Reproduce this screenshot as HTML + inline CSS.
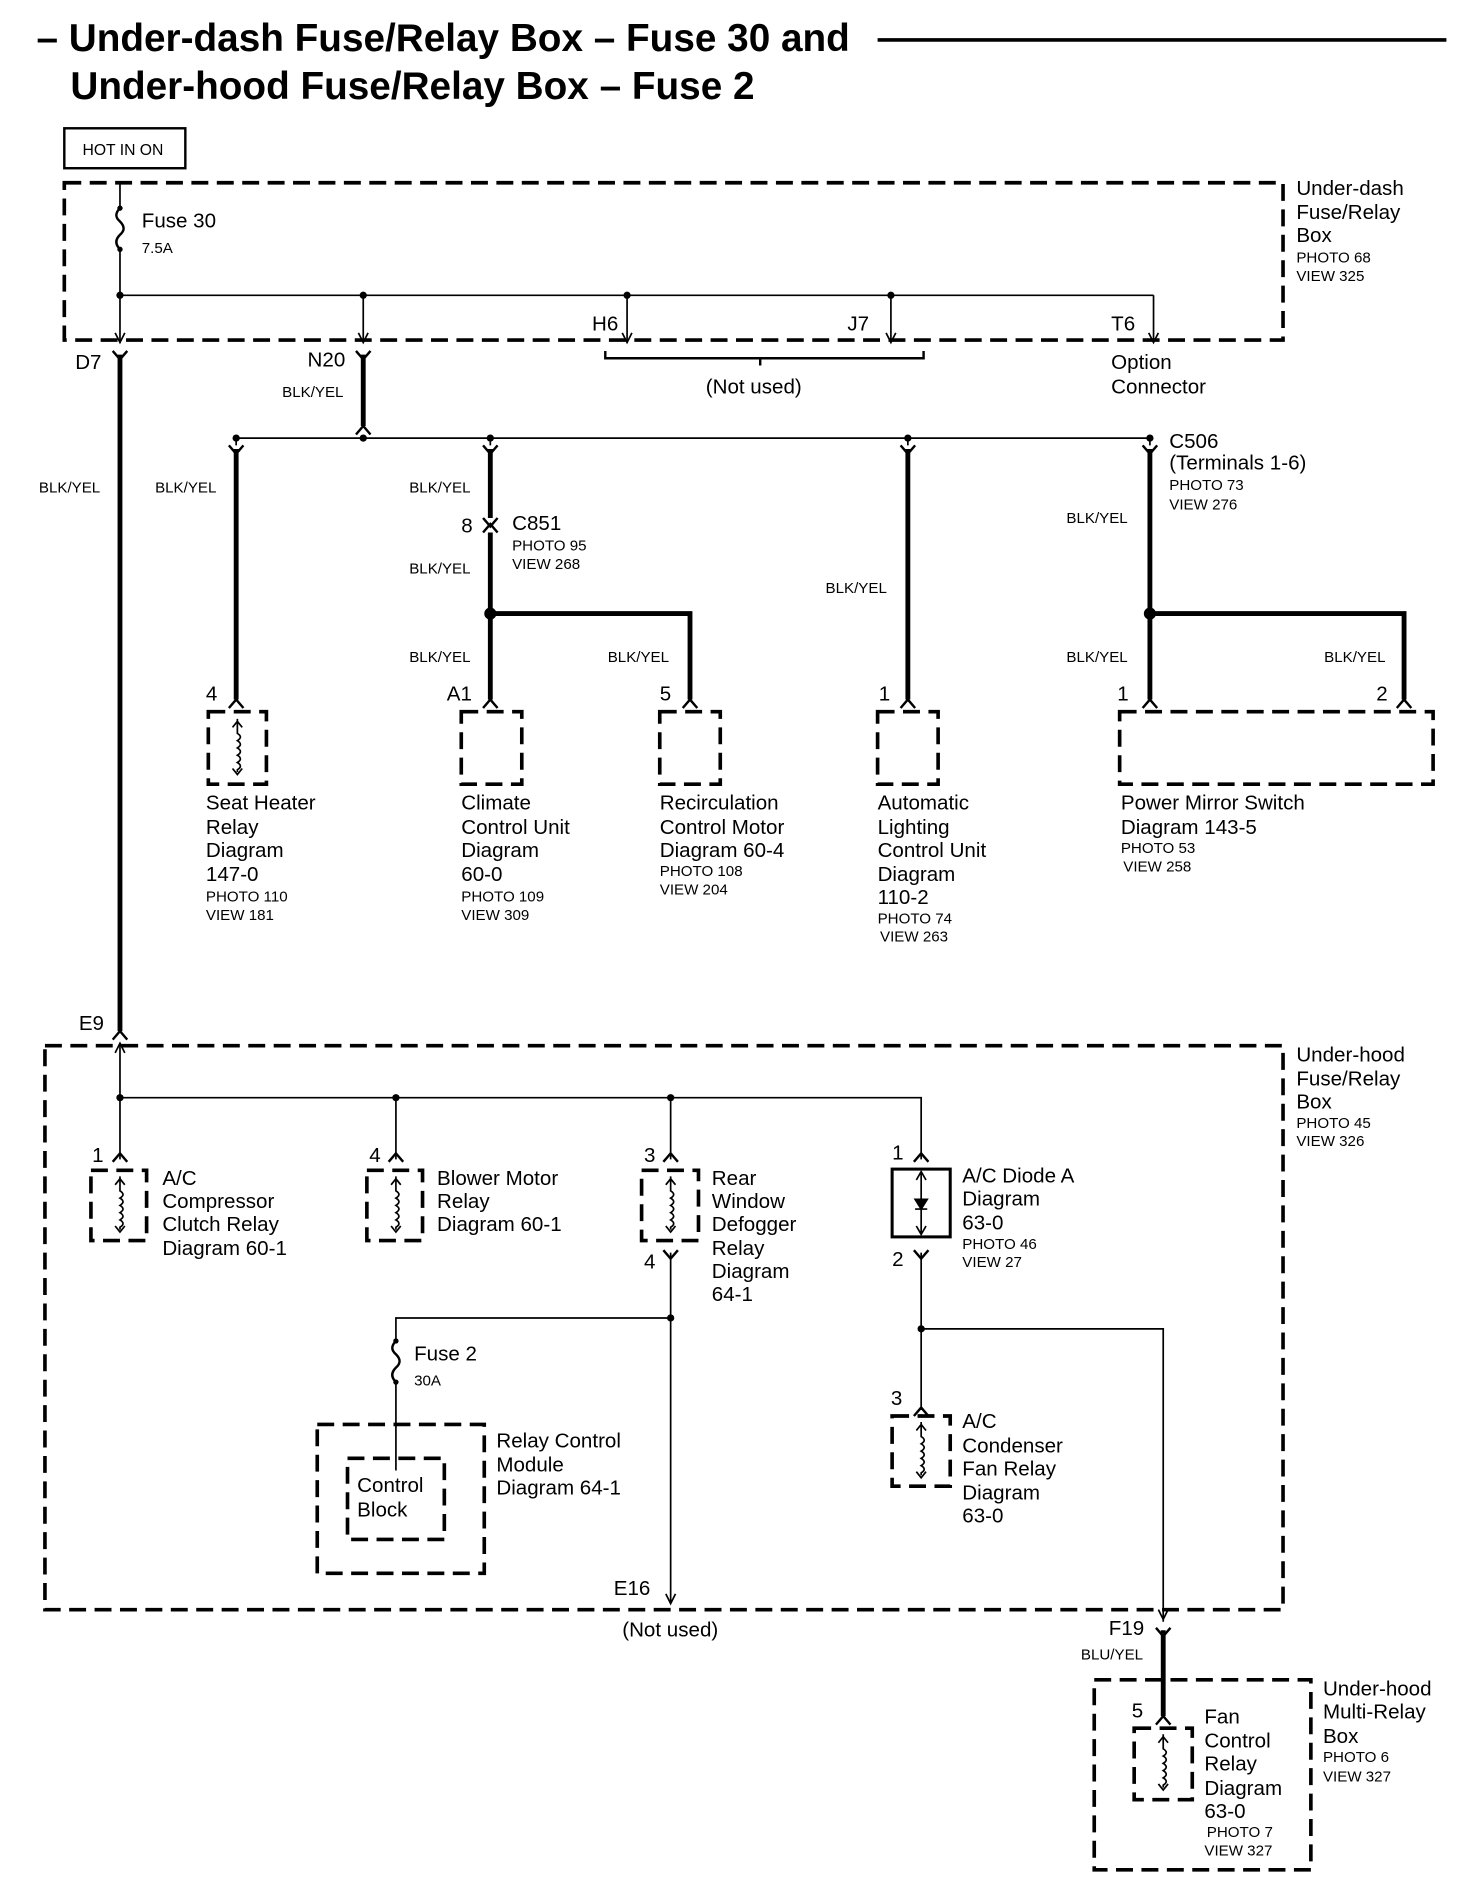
<!DOCTYPE html>
<html><head><meta charset="utf-8"><style>
html,body{margin:0;padding:0;background:#fff;}
svg{display:block}
text{font-family:"Liberation Sans",Arial,sans-serif;fill:#000}
.t{font-size:17px}
.s{font-size:12.5px}
.w{stroke:#000;stroke-width:1.4;fill:none}
.W{stroke:#000;stroke-width:4;fill:none}
.d{stroke:#000;stroke-width:3;fill:none;stroke-dasharray:14,7}
.c{stroke:#000;stroke-width:2;fill:none}
</style></head><body>
<svg width="1472" height="1888" viewBox="0 0 1216 1560" xmlns="http://www.w3.org/2000/svg">
<defs>
<g id="coil"><path d="M0,-24 V-20 M-4,-17 L0,-22 L4,-17 M0,-20 V-12 q5,3 0,6 q5,3 0,6 q5,3 0,6 q5,3 0,6 q5,3 0,6 V20 M-4,17 L0,22 L4,17" class="w"/></g>
<g id="fuse"><circle cx="0" cy="0" r="2.2"/><circle cx="0" cy="34" r="2.2"/><path d="M0,0 q-6,6 0,11 q6,6 0,11 q-6,6 0,12" class="c" stroke-width="1.6"/></g>
<g id="fdn"><path d="M-6,-7 L0,0 L6,-7" class="c" stroke-width="2.5"/></g>
<g id="fup"><path d="M-6,7 L0,0 L6,7" class="c" stroke-width="2.5"/></g>
<g id="arr"><path d="M-4,-8 L0,0 L4,-8" class="w"/></g>
</defs>

<!-- Title -->
<text x="30" y="42" style="font-size:32px;font-weight:bold">– Under-dash Fuse/Relay Box – Fuse 30 and</text>
<line x1="725" y1="33" x2="1195" y2="33" stroke="#000" stroke-width="3"/>
<text x="58" y="82" style="font-size:32px;font-weight:bold">Under-hood Fuse/Relay Box – Fuse 2</text>

<rect x="53" y="106" width="100" height="33" fill="none" stroke="#000" stroke-width="2"/>
<text x="68" y="128" style="font-size:13px">HOT IN ON</text>

<!-- Under-dash box -->
<rect x="53" y="151" width="1007" height="130" class="d"/>
<text class="t" x="1071" y="161">Under-dash</text><text class="t" x="1071" y="181">Fuse/Relay</text><text class="t" x="1071" y="200">Box</text>
<text class="s" x="1071" y="217">PHOTO 68</text><text class="s" x="1071" y="232">VIEW 325</text>
<path d="M99,151 V172 M99,206 V283" class="w"/>
<use href="#fuse" x="99" y="172"/>
<text class="t" x="117" y="188">Fuse 30</text><text class="s" x="117" y="209">7.5A</text>
<path d="M99,244 H953 M300,244 V283 M518,244 V283 M736,244 V283 M953,244 V283" class="w"/>
<circle cx="99" cy="244" r="3"/><circle cx="300" cy="244" r="3"/><circle cx="518" cy="244" r="3"/><circle cx="736" cy="244" r="3"/>
<use href="#arr" x="99" y="283"/><use href="#arr" x="300" y="283"/><use href="#arr" x="518" y="283"/><use href="#arr" x="736" y="283"/><use href="#arr" x="953" y="283"/>
<text class="t" x="489" y="273">H6</text><text class="t" x="700" y="273">J7</text><text class="t" x="918" y="273">T6</text>
<path d="M500,290 V296 H763 V290 M628,296 V302" class="c"/>
<text class="t" x="583" y="325">(Not used)</text>
<text class="t" x="918" y="305">Option</text><text class="t" x="918" y="325">Connector</text>
<text class="t" x="62" y="305">D7</text><text class="t" x="254" y="303">N20</text>
<text class="s" x="233" y="328">BLK/YEL</text>
<use href="#fdn" x="99" y="297"/><use href="#fdn" x="300" y="297"/>
<path d="M99,293 V852 M300,293 V352" class="W"/>
<use href="#fup" x="300" y="352"/>

<!-- upper branch -->
<path d="M195,362 H950" class="w"/>
<circle cx="195" cy="362" r="3"/><circle cx="300" cy="362" r="3"/><circle cx="405" cy="362" r="3"/><circle cx="750" cy="362" r="3"/><circle cx="950" cy="362" r="3"/>
<path d="M195,362 V368 M405,362 V368 M750,362 V368 M950,362 V368" class="w"/>
<use href="#fdn" x="195" y="375"/><use href="#fdn" x="405" y="375"/><use href="#fdn" x="750" y="375"/><use href="#fdn" x="950" y="375"/>
<path d="M195,371 V578 M405,371 V428 M405,440 V578 M405,507 H570 V578 M750,371 V578 M950,371 V578 M950,507 H1160 V578" class="W"/>
<use href="#fdn" x="405" y="435"/><use href="#fup" x="405" y="433"/>
<circle cx="405" cy="507" r="5"/><circle cx="950" cy="507" r="5"/>
<use href="#fup" x="195" y="578"/><use href="#fup" x="405" y="578"/><use href="#fup" x="570" y="578"/><use href="#fup" x="750" y="578"/><use href="#fup" x="950" y="578"/><use href="#fup" x="1160" y="578"/>

<text class="s" x="32" y="407">BLK/YEL</text><text class="s" x="128" y="407">BLK/YEL</text><text class="s" x="338" y="407">BLK/YEL</text>
<text class="s" x="338" y="474">BLK/YEL</text><text class="s" x="338" y="547">BLK/YEL</text><text class="s" x="502" y="547">BLK/YEL</text>
<text class="s" x="682" y="490">BLK/YEL</text><text class="s" x="881" y="432">BLK/YEL</text><text class="s" x="881" y="547">BLK/YEL</text><text class="s" x="1094" y="547">BLK/YEL</text>
<text class="t" x="381" y="440">8</text><text class="t" x="423" y="438">C851</text><text class="s" x="423" y="455">PHOTO 95</text><text class="s" x="423" y="470">VIEW 268</text>
<text class="t" x="966" y="370">C506</text><text class="t" x="966" y="388">(Terminals 1-6)</text><text class="s" x="966" y="405">PHOTO 73</text><text class="s" x="966" y="421">VIEW 276</text>
<text class="t" x="170" y="579">4</text><text class="t" x="369" y="579">A1</text><text class="t" x="545" y="579">5</text><text class="t" x="726" y="579">1</text><text class="t" x="923" y="579">1</text><text class="t" x="1137" y="579">2</text>

<rect x="172" y="588" width="48" height="60" class="d" stroke-dasharray="12,6"/><use href="#coil" x="196" y="618"/>
<rect x="381" y="588" width="50" height="60" class="d" stroke-dasharray="12,6"/>
<rect x="545" y="588" width="50" height="60" class="d" stroke-dasharray="12,6"/>
<rect x="725" y="588" width="50" height="60" class="d" stroke-dasharray="12,6"/>
<rect x="925" y="588" width="259" height="60" class="d"/>

<text class="t" x="170" y="669">Seat Heater</text><text class="t" x="170" y="689">Relay</text><text class="t" x="170" y="708">Diagram</text><text class="t" x="170" y="728">147-0</text><text class="s" x="170" y="745">PHOTO 110</text><text class="s" x="170" y="760">VIEW 181</text>
<text class="t" x="381" y="669">Climate</text><text class="t" x="381" y="689">Control Unit</text><text class="t" x="381" y="708">Diagram</text><text class="t" x="381" y="728">60-0</text><text class="s" x="381" y="745">PHOTO 109</text><text class="s" x="381" y="760">VIEW 309</text>
<text class="t" x="545" y="669">Recirculation</text><text class="t" x="545" y="689">Control  Motor</text><text class="t" x="545" y="708">Diagram 60-4</text><text class="s" x="545" y="724">PHOTO 108</text><text class="s" x="545" y="739">VIEW 204</text>
<text class="t" x="725" y="669">Automatic</text><text class="t" x="725" y="689">Lighting</text><text class="t" x="725" y="708">Control Unit</text><text class="t" x="725" y="728">Diagram</text><text class="t" x="725" y="747">110-2</text><text class="s" x="725" y="763">PHOTO 74</text><text class="s" x="727" y="778">VIEW 263</text>
<text class="t" x="926" y="669">Power Mirror Switch</text><text class="t" x="926" y="689">Diagram 143-5</text><text class="s" x="926" y="705">PHOTO 53</text><text class="s" x="928" y="720">VIEW 258</text>

<!-- Under-hood box -->
<text class="t" x="65" y="851">E9</text>
<use href="#fup" x="99" y="852"/>
<rect x="37" y="864" width="1023" height="466" class="d"/>
<text class="t" x="1071" y="877">Under-hood</text><text class="t" x="1071" y="897">Fuse/Relay</text><text class="t" x="1071" y="916">Box</text>
<text class="s" x="1071" y="932">PHOTO 45</text><text class="s" x="1071" y="947">VIEW 326</text>
<path d="M99,862 V958 M99,907 H761 V958 M327,907 V958 M554,907 V958" class="w"/>
<path d="M95,870 L99,862 L103,870" class="w"/>
<circle cx="99" cy="907" r="3"/><circle cx="327" cy="907" r="3"/><circle cx="554" cy="907" r="3"/>
<use href="#fup" x="99" y="953"/><use href="#fup" x="327" y="953"/><use href="#fup" x="554" y="953"/><use href="#fup" x="761" y="953"/>
<text class="t" x="76" y="960">1</text><text class="t" x="305" y="960">4</text><text class="t" x="532" y="960">3</text><text class="t" x="737" y="958">1</text>
<rect x="75" y="967" width="46" height="58" class="d" stroke-dasharray="12,6"/><use href="#coil" x="99" y="996"/>
<rect x="303" y="967" width="46" height="58" class="d" stroke-dasharray="12,6"/><use href="#coil" x="327" y="996"/>
<rect x="530" y="967" width="47" height="58" class="d" stroke-dasharray="12,6"/><use href="#coil" x="554" y="996"/>
<rect x="737" y="966" width="48" height="56" fill="none" stroke="#000" stroke-width="2.5"/>
<path d="M761,968 V1020 M757,975 L761,968 L765,975 M757,1013 L761,1020 L765,1013" class="w"/>
<path d="M756,991 H766 L761,999 Z M756,999 H766"  stroke="#000" stroke-width="1.4"/>
<text class="t" x="134" y="979">A/C</text><text class="t" x="134" y="998">Compressor</text><text class="t" x="134" y="1017">Clutch Relay</text><text class="t" x="134" y="1037">Diagram 60-1</text>
<text class="t" x="361" y="979">Blower Motor</text><text class="t" x="361" y="998">Relay</text><text class="t" x="361" y="1017">Diagram 60-1</text>
<text class="t" x="588" y="979">Rear</text><text class="t" x="588" y="998">Window</text><text class="t" x="588" y="1017">Defogger</text><text class="t" x="588" y="1037">Relay</text><text class="t" x="588" y="1056">Diagram</text><text class="t" x="588" y="1075">64-1</text>
<text class="t" x="795" y="977">A/C Diode A</text><text class="t" x="795" y="996">Diagram</text><text class="t" x="795" y="1016">63-0</text><text class="s" x="795" y="1032">PHOTO 46</text><text class="s" x="795" y="1047">VIEW 27</text>

<text class="t" x="532" y="1048">4</text>
<use href="#fdn" x="554" y="1040"/>
<path d="M554,1035 V1325 M554,1089 H327 V1108 M327,1142 V1215" class="w"/>
<use href="#arr" x="554" y="1325"/>
<circle cx="554" cy="1089" r="3"/>
<use href="#fuse" x="327" y="1108"/>
<text class="t" x="342" y="1124">Fuse 2</text><text class="s" x="342" y="1145">30A</text>
<rect x="262" y="1177" width="138" height="123" class="d"/>
<rect x="287" y="1205" width="80" height="67" class="d" stroke-dasharray="12,6" stroke-width="2.5"/>
<text class="t" x="295" y="1233">Control</text><text class="t" x="295" y="1253">Block</text>
<text class="t" x="410" y="1196">Relay Control</text><text class="t" x="410" y="1216">Module</text><text class="t" x="410" y="1235">Diagram 64-1</text>
<text class="t" x="507" y="1318">E16</text><text class="t" x="514" y="1352">(Not used)</text>

<text class="t" x="737" y="1046">2</text>
<use href="#fdn" x="761" y="1040"/>
<path d="M761,1035 V1165 M761,1098 H961 V1340" class="w"/>
<circle cx="761" cy="1098" r="3"/>
<use href="#arr" x="961" y="1338"/>
<use href="#fup" x="761" y="1163"/>
<text class="t" x="736" y="1161">3</text>
<rect x="737" y="1170" width="48" height="58" class="d" stroke-dasharray="12,6"/><use href="#coil" x="761" y="1199"/>
<text class="t" x="795" y="1180">A/C</text><text class="t" x="795" y="1200">Condenser</text><text class="t" x="795" y="1219">Fan Relay</text><text class="t" x="795" y="1239">Diagram</text><text class="t" x="795" y="1258">63-0</text>

<!-- multi relay -->
<text class="t" x="916" y="1351">F19</text><text class="s" x="893" y="1371">BLU/YEL</text>
<use href="#fdn" x="961" y="1352"/>
<path d="M961,1347 V1418" class="W"/>
<use href="#fup" x="961" y="1418"/>
<rect x="904" y="1388" width="179" height="157" class="d"/>
<text class="t" x="1093" y="1401">Under-hood</text><text class="t" x="1093" y="1420">Multi-Relay</text><text class="t" x="1093" y="1440">Box</text>
<text class="s" x="1093" y="1456">PHOTO 6</text><text class="s" x="1093" y="1472">VIEW 327</text>
<text class="t" x="935" y="1419">5</text>
<rect x="937" y="1428" width="48" height="59" class="d" stroke-dasharray="12,6"/><use href="#coil" x="961" y="1457"/>
<text class="t" x="995" y="1424">Fan</text><text class="t" x="995" y="1444">Control</text><text class="t" x="995" y="1463">Relay</text><text class="t" x="995" y="1483">Diagram</text><text class="t" x="995" y="1502">63-0</text>
<text class="s" x="997" y="1518">PHOTO 7</text><text class="s" x="995" y="1533">VIEW 327</text>
</svg>
</body></html>
